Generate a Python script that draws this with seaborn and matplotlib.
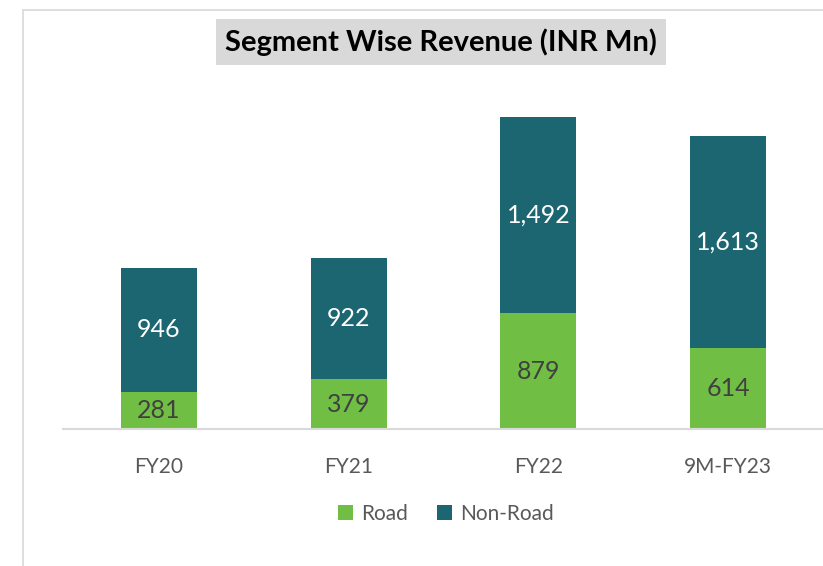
import matplotlib.pyplot as plt
import seaborn as sns
import pandas as pd
from matplotlib.lines import Line2D

# chart data
periods = ["FY20", "FY21", "FY22", "9M-FY23"]
road = [281, 379, 879, 614]
non_road = [946, 922, 1492, 1613]

GREEN = "#70BF44"
TEAL = "#1B6670"
GREY_TXT = "#595959"

sns.set_theme(style="white")
plt.rcParams["font.family"] = ["Lato", "DejaVu Sans"]

df = pd.DataFrame({"period": periods, "Road": road, "Non-Road": non_road})

fig = plt.figure(figsize=(8.23, 5.66), dpi=100)
W, H = 823, 566

# outer frame (left + top lines like the source slide)
fig.add_artist(Line2D([23 / W, 23 / W], [0, 1 - 10 / H], color="#D9D9D9", lw=1.2))
fig.add_artist(Line2D([23 / W, 1], [1 - 10 / H, 1 - 10 / H], color="#D9D9D9", lw=1.2))

ax = fig.add_axes([63 / W, (H - 429) / H, (W - 63) / W, (429 - 61) / H])

sns.barplot(data=df, x="period", y="Road", color=GREEN, width=0.4,
            saturation=1, ax=ax, label="Road", linewidth=0, edgecolor="none")
sns.barplot(data=df, x="period", y="Non-Road", bottom=df["Road"], color=TEAL,
            width=0.4, saturation=1, ax=ax, label="Non-Road",
            linewidth=0, edgecolor="none")

# value labels
for i, (r, n) in enumerate(zip(road, non_road)):
    ax.text(i, r / 2, f"{r:,}", ha="center", va="center", fontsize=18, color="#404040")
    ax.text(i, r + n / 2, f"{n:,}", ha="center", va="center", fontsize=18, color="white")

ax.set_xlim(-0.505, 3.5)
ax.set_ylim(0, 2800)
ax.set_xlabel("")
ax.set_ylabel("")
ax.set_yticks([])
for s in ["top", "right", "left"]:
    ax.spines[s].set_visible(False)
ax.spines["bottom"].set_color("#D9D9D9")
ax.spines["bottom"].set_linewidth(1.5)
ax.tick_params(axis="x", length=0, pad=20, labelsize=15, labelcolor=GREY_TXT)

# legend
leg = ax.legend(loc="center", bbox_to_anchor=(446 / W, 1 - 514 / H),
                bbox_transform=fig.transFigure, ncol=2, frameon=False,
                fontsize=15, handlelength=0.7, handleheight=0.7,
                handletextpad=0.4, columnspacing=1.4)
for t in leg.get_texts():
    t.set_color(GREY_TXT)

# title in grey box
fig.text(441 / W, 1 - 42 / H, "Segment Wise Revenue (INR Mn)", ha="center",
         va="center", fontsize=21, fontweight="bold", color="black",
         bbox=dict(boxstyle="square,pad=0.3", facecolor="#D9D9D9", edgecolor="none"))

fig.savefig("out.png", dpi=100)
plt.close(fig)
